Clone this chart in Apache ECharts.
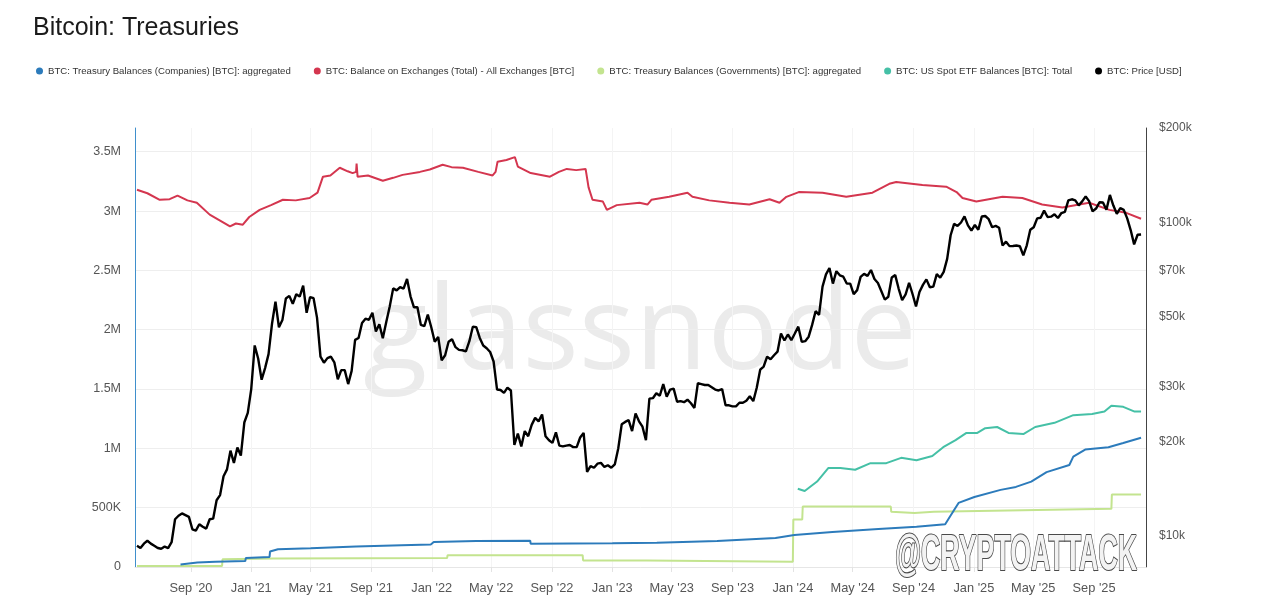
<!DOCTYPE html>
<html><head><meta charset="utf-8">
<script src="https://cdn.jsdelivr.net/npm/echarts@6/dist/echarts.min.js"></script>
<style>html,body{margin:0;padding:0;background:#fff}#c{width:1280px;height:610px}</style>
</head><body><div id="c"></div>
<script>
const titleText = 'Bitcoin: Treasuries';
const seriesNames = [
  'BTC: Treasury Balances (Companies) [BTC]: aggregated',
  'BTC: Balance on Exchanges (Total) - All Exchanges [BTC]',
  'BTC: Treasury Balances (Governments) [BTC]: aggregated',
  'BTC: US Spot ETF Balances [BTC]: Total',
  'BTC: Price [USD]'
];
const seriesColors = ['#2c7bbb', '#d4364f', '#c3e48f', '#45c0a6', '#000000'];
const xTickDates = ['2020-09-01','2021-01-01','2021-05-01','2021-09-01','2022-01-01','2022-05-01','2022-09-01','2023-01-01','2023-05-01','2023-09-01','2024-01-01','2024-05-01','2024-09-01','2025-01-01','2025-05-01','2025-09-01'];
const priceTicks = [10000, 20000, 30000, 50000, 70000, 100000, 200000];

const companies = [
['2020-08-11',21000],['2020-09-14',38000],['2020-10-20',45000],['2020-12-20',50000],['2020-12-21',75000],['2021-02-07',85000],['2021-02-08',130000],['2021-02-24',150000],['2021-05-01',158000],['2021-08-01',172000],['2021-11-01',183000],['2021-12-30',190000],['2022-01-05',210000],['2022-04-01',220000],['2022-07-19',222000],['2022-07-20',195000],['2023-01-01',200000],['2023-04-01',205000],['2023-08-01',220000],['2023-11-27',245000],['2024-01-04',270000],['2024-03-21',295000],['2024-06-22',320000],['2024-09-07',340000],['2024-11-04',360000],['2024-11-16',440000],['2024-12-01',540000],['2025-01-02',590000],['2025-02-24',650000],['2025-03-27',675000],['2025-04-27',720000],['2025-05-28',800000],['2025-07-13',860000],['2025-07-21',930000],['2025-08-14',990000],['2025-09-30',1010000],['2025-10-30',1045000],['2025-12-05',1090000]
];
const exchanges = [
['2020-05-15',3180000],['2020-06-05',3150000],['2020-06-30',3095000],['2020-07-20',3100000],['2020-08-05',3130000],['2020-08-25',3090000],['2020-09-13',3070000],['2020-10-09',2970000],['2020-10-30',2920000],['2020-11-19',2870000],['2020-12-01',2895000],['2020-12-15',2885000],['2020-12-28',2950000],['2021-01-18',3010000],['2021-02-10',3050000],['2021-03-06',3095000],['2021-04-01',3090000],['2021-04-29',3110000],['2021-05-15',3155000],['2021-05-26',3290000],['2021-06-10',3300000],['2021-06-29',3365000],['2021-07-15',3335000],['2021-07-25',3320000],['2021-08-01',3330000],['2021-08-02',3400000],['2021-08-04',3290000],['2021-08-25',3300000],['2021-09-24',3255000],['2021-10-15',3280000],['2021-11-03',3305000],['2021-12-08',3330000],['2021-12-28',3350000],['2022-01-23',3390000],['2022-02-10',3370000],['2022-03-05',3365000],['2022-04-05',3330000],['2022-05-04',3300000],['2022-05-10',3330000],['2022-05-14',3415000],['2022-06-01',3430000],['2022-06-18',3455000],['2022-06-24',3375000],['2022-07-20',3320000],['2022-08-28',3290000],['2022-09-15',3330000],['2022-10-01',3355000],['2022-10-20',3345000],['2022-11-08',3355000],['2022-11-14',3200000],['2022-11-22',3095000],['2022-12-13',3080000],['2022-12-21',3010000],['2023-01-10',3050000],['2023-02-25',3070000],['2023-03-13',3055000],['2023-03-21',3095000],['2023-04-26',3120000],['2023-06-02',3155000],['2023-06-12',3120000],['2023-07-16',3090000],['2023-08-26',3070000],['2023-10-05',3055000],['2023-11-15',3100000],['2023-12-05',3070000],['2023-12-19',3120000],['2024-01-13',3160000],['2024-03-01',3155000],['2024-04-18',3120000],['2024-06-10',3155000],['2024-07-14',3230000],['2024-07-28',3245000],['2024-09-19',3220000],['2024-11-06',3205000],['2024-11-27',3160000],['2024-12-09',3110000],['2025-01-06',3080000],['2025-02-28',3120000],['2025-04-09',3110000],['2025-05-19',3055000],['2025-06-29',3030000],['2025-08-22',3070000],['2025-10-02',3010000],['2025-11-05',2985000],['2025-12-05',2935000]
];
const governments = [
['2020-05-15',8000],['2020-11-03',8000],['2020-11-04',65000],['2021-02-15',72000],['2022-02-01',75000],['2022-02-02',100000],['2022-11-02',100000],['2022-11-03',55000],['2023-03-12',55000],['2023-03-13',45000],['2024-01-01',45000],['2024-01-02',400000],['2024-01-20',400000],['2024-01-21',510000],['2024-07-17',510000],['2024-07-18',465000],['2024-09-03',455000],['2024-10-12',465000],['2025-10-06',490000],['2025-10-07',610000],['2025-12-05',610000]
];
const etfs = [
['2024-01-11',660000],['2024-01-25',640000],['2024-02-19',720000],['2024-03-13',835000],['2024-04-06',835000],['2024-05-06',820000],['2024-06-06',875000],['2024-07-08',875000],['2024-08-07',920000],['2024-09-07',900000],['2024-10-09',935000],['2024-10-31',1010000],['2024-11-25',1070000],['2024-12-17',1130000],['2025-01-08',1130000],['2025-01-24',1170000],['2025-02-17',1180000],['2025-03-12',1130000],['2025-04-11',1120000],['2025-05-05',1180000],['2025-06-13',1215000],['2025-07-21',1280000],['2025-08-28',1290000],['2025-09-22',1310000],['2025-10-06',1360000],['2025-10-30',1350000],['2025-11-22',1310000],['2025-12-05',1310000]
];

// weekly BTC price, one list per year with its first date
const price2020 = [9300,9150,9450,9650,9450,9300,9150,9100,9250,9150,9550,11300,11600,11800,11650,11500,10500,10400,10900,10700,10550,11300,11350,13000,13500,15500,16300,18700,17100,19150,18050,23000,24700];
const price2021 = [29400,40500,36800,31500,34300,38000,47500,55900,46300,48800,57200,58300,55000,59000,58000,62800,51500,57800,57300,49700,37300,35700,36900,37300,35800,31600,33800,33800,30500,33600,42200,42800,47800,49300,48900,51500,44900,47300,42700,48100,53900,61600,60700,62200,61500,66000,58100,53600,53600,47100,46700,50800,46300];
const price2022 = [41600,43100,36300,37700,41600,42400,40000,39200,39100,38800,41800,46500,46300,42800,40500,39700,38600,36000,29300,29200,28600,29700,29100,19500,21200,19300,21600,20800,22600,23800,23200,24400,20800,20200,19800,21400,19400,19300,19400,19500,19200,19200,20600,21300,16000,16700,16500,17000,17100,16600,16800,16500];
const price2023 = [16900,19000,22700,23100,23400,21600,24600,23200,22300,20200,27400,27500,28500,28000,30500,27800,29300,29500,26800,26900,26700,27200,26500,25600,30700,30500,30300,30300,29800,29300,29100,29400,26100,26100,25900,25900,26600,26600,27000,27900,26900,29700,33900,34700,37300,36600,37700,38700,44200,42000,43900,42100];
const price2024 = [44200,46500,41600,41800,43200,47100,52100,50700,62400,68300,71500,63800,69900,67800,67100,63800,63800,59000,60800,67000,68500,67500,70500,66000,64100,60300,56700,57900,66700,67900,61400,56500,58900,64100,59100,53900,60000,63200,65800,62100,62400,68400,66600,69500,76500,91000,98900,97400,99900,104500,97800,94200];
const price2025 = [98100,94700,104400,104800,102400,96500,97500,96100,84400,86800,84000,84100,84400,83900,78500,84500,94700,96500,103000,103500,109000,104000,104300,106100,103300,107100,108000,117500,118500,117600,113300,116700,121000,116900,108400,110700,115900,115700,109700,122300,113200,106500,111000,109600,103000,94500,85100,91300,91500];
const priceStarts = ['2020-05-15','2021-01-01','2022-01-07','2023-01-06','2024-01-05','2025-01-03'];
const priceYears = [price2020, price2021, price2022, price2023, price2024, price2025];

function ts(s){ const p = s.split('-').map(Number); return new Date(p[0], p[1]-1, p[2]).getTime(); }
function toPts(list){ return list.map(d => [ts(d[0]), d[1]]); }
function weekly(start, vals){ const p = start.split('-').map(Number); return vals.map((v,i)=>[new Date(p[0], p[1]-1, p[2]+7*i).getTime(), v]); }
const price = [];
priceYears.forEach((arr, k) => weekly(priceStarts[k], arr).forEach(pt => price.push(pt)));
const xTicks = xTickDates.map(ts);
const MONTHS = ['Jan','Feb','Mar','Apr','May','Jun','Jul','Aug','Sep','Oct','Nov','Dec'];
const FONT = "'Liberation Sans', Arial, sans-serif";

function lineSeries(i, data, yIdx, width, z){
  return { name: seriesNames[i], type:'line', data: data, yAxisIndex: yIdx, showSymbol:false, symbol:'none',
    lineStyle:{ width: width, color: seriesColors[i] }, itemStyle:{ color: seriesColors[i] }, z: z, animation:false };
}

const chart = echarts.init(document.getElementById('c'), null, {renderer:'canvas'});
chart.setOption({
  animation: false,
  backgroundColor: '#ffffff',
  textStyle: { fontFamily: FONT },
  title: { text: titleText, left: 28, top: 11, textStyle: { fontSize: 25, fontWeight: 'normal', color: '#1b1b1b', fontFamily: FONT } },
  legend: { data: seriesNames, left: 31, top: 61, icon: 'circle', itemWidth: 7, itemHeight: 7, itemGap: 23,
    textStyle: { fontSize: 9.6, color: '#333', fontFamily: FONT } },
  grid: { left: 135, right: 134, top: 128, bottom: 43 },
  xAxis: {
    type: 'value', min: ts('2020-05-11'), max: ts('2025-12-15'),
    axisLine: { show: true, lineStyle: { color: '#e6e6e6' } },
    axisTick: { show: true, customValues: xTicks, length: 5, lineStyle: { color: '#e3e3e3' } },
    axisLabel: { customValues: xTicks, color: '#555', fontSize: 12.8, margin: 15, fontFamily: FONT,
      formatter: v => { const d = new Date(v); return MONTHS[d.getMonth()] + " '" + String(d.getFullYear()).slice(2); } },
    splitLine: { show: true, lineStyle: { color: '#f4f4f4' } }
  },
  yAxis: [
    { type: 'value', min: 0, max: 3700000, interval: 500000, position: 'left',
      axisLine: { show: true, lineStyle: { color: '#3f8fcc' } }, axisTick: { show: false },
      axisLabel: { color: '#555', fontSize: 12.5, margin: 14, showMaxLabel: false, fontFamily: FONT,
        formatter: v => v === 0 ? '0' : (v < 1e6 ? (v/1000) + 'K' : (v/1e6) + 'M') },
      splitLine: { show: true, showMaxLine: false, lineStyle: { color: '#eeeeee' } } },
    { type: 'log', logBase: 10, min: 7960, max: 200000, position: 'right',
      axisLine: { show: true, lineStyle: { color: '#444' } }, axisTick: { show: false },
      axisLabel: { customValues: priceTicks, color: '#555', fontSize: 12, margin: 13, fontFamily: FONT,
        formatter: v => '$' + Math.round(v/1000) + 'k' },
      splitLine: { show: false } }
  ],
  graphic: [
    { type: 'text', x: 640, y: 335, z: 0, silent: true,
      style: { text: 'glassnode', font: "500 118px 'Open Sans'", fill: '#ebebeb', align: 'center', verticalAlign: 'middle' } },
    { type: 'text', x: 1016, y: 556, z: 100, scaleX: 0.535, silent: true,
      style: { text: '@CRYPTOATTACK', font: "bold 50px 'Liberation Sans'", fill: '#f3f3f3', stroke: '#4a4a4a', lineWidth: 2.2,
        align: 'center', verticalAlign: 'middle', shadowBlur: 3, shadowColor: 'rgba(0,0,0,0.55)', shadowOffsetX: 2, shadowOffsetY: 2 } }
  ],
  series: [
    lineSeries(0, toPts(companies), 0, 2, 4),
    lineSeries(1, toPts(exchanges), 0, 2, 3),
    lineSeries(2, toPts(governments), 0, 2, 3),
    lineSeries(3, toPts(etfs), 0, 2, 3),
    lineSeries(4, price, 1, 2.4, 5)
  ]
});
</script></body></html>
